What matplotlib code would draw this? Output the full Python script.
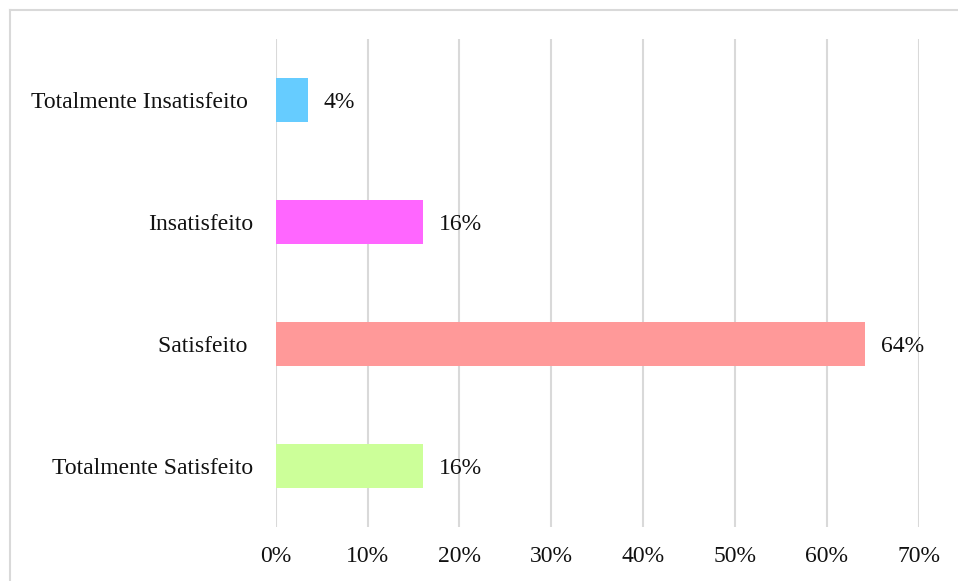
import matplotlib.pyplot as plt
from matplotlib.lines import Line2D

# data, bottom to top
categorias = ['Totalmente Satisfeito', 'Satisfeito ', 'Insatisfeito', 'Totalmente Insatisfeito ']
valores = [16.0, 64.2, 16.0, 3.5]
rotulos = ['16%', '64%', '16%', '4%']
cores = ['#CCFF99', '#FF9999', '#FF66FF', '#66CCFF']
ticks_x = [0, 10, 20, 30, 40, 50, 60, 70]


def main():
    plt.rcParams['font.family'] = ['Liberation Serif', 'DejaVu Serif']
    fig = plt.figure(figsize=(9.58, 5.81), dpi=100)
    ax = fig.add_axes([0.2878, 0.0929, 0.959 - 0.2878, 0.9329 - 0.0929])

    pos = list(range(len(categorias)))
    ax.barh(pos, valores, height=0.36, color=cores, zorder=3)

    for p, v, r in zip(pos, valores, rotulos):
        ax.annotate(r, (v, p), xytext=(11.5, 0), textcoords='offset points',
                    va='center_baseline', ha='left', fontsize=17, color='#111111')

    ax.set_xlim(0, 70)
    ax.set_ylim(-0.5, 3.5)
    ax.set_xticks(ticks_x)
    ax.set_xticklabels([str(t) + '%' for t in ticks_x])
    ax.set_yticks(pos)
    ax.set_yticklabels(categorias, va='center_baseline')
    ax.tick_params(axis='both', length=0, labelsize=17, colors='#111111')
    ax.tick_params(axis='y', pad=16)
    ax.tick_params(axis='x', pad=14)

    ax.grid(axis='x', color='#D9D9D9', linewidth=1.5, zorder=0)
    ax.grid(axis='y', visible=False)
    for s in ax.spines.values():
        s.set_visible(False)

    # outer chart border (only top and left visible in the crop)
    fig.add_artist(Line2D([9.5 / 958, 9.5 / 958], [0, 1 - 10 / 581], color='#D9D9D9', linewidth=1.5))
    fig.add_artist(Line2D([9.5 / 958, 1], [1 - 10 / 581, 1 - 10 / 581], color='#D9D9D9', linewidth=1.5))

    fig.savefig('out.png', dpi=100)


if __name__ == '__main__':
    main()
